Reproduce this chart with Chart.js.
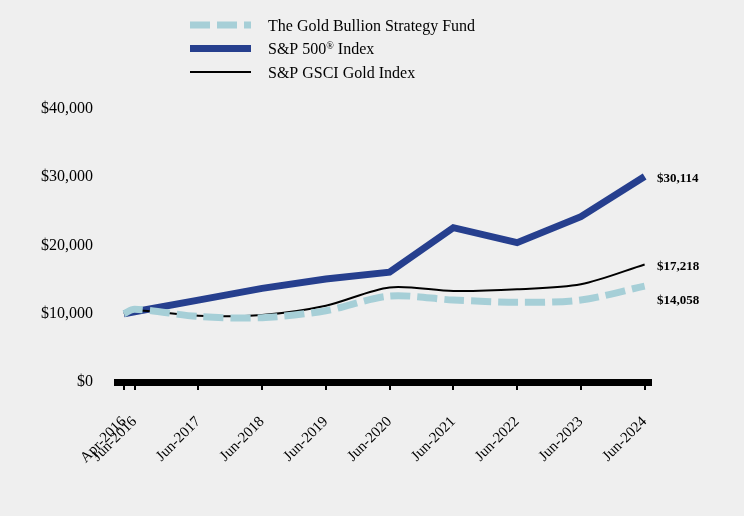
<html>
<head>
<style>
  body { margin: 0; background: #efefef; }
  #wrap { width: 744px; height: 516px; position: relative; }
</style>
</head>
<body>
<div id="wrap"><canvas id="myChart"></canvas></div>
<script src="https://cdn.jsdelivr.net/npm/chart.js@4.4.1/dist/chart.umd.min.js"></script>
<script>
    // months counted from Apr-2016
    const months = [0, 2, 14, 26, 38, 50, 62, 74, 86, 98];
    const tickLabels = ["Apr-2016", "Jun-2016", "Jun-2017", "Jun-2018", "Jun-2019",
        "Jun-2020", "Jun-2021", "Jun-2022", "Jun-2023", "Jun-2024"];

    const fundValues = [10000, 10650, 9600, 9420, 10450, 12600, 12015, 11680, 12015, 14058];
    const spxValues = [10000, 10300, 12000, 13720, 15090, 16100, 22610, 20410, 24220, 30114];
    const goldValues = [10000, 10500, 9710, 9820, 11180, 13850, 13330, 13580, 14310, 17218];

    const fundColor = "#a6cfd7";
    const spxColor = "#263f8e";
    const goldColor = "#000000";

    Chart.defaults.font.family = "'Liberation Serif', 'Times New Roman', serif";
    Chart.defaults.color = "#000";

    const toPoints = (vals) => vals.map((v, i) => ({ x: months[i], y: v }));
    const money = (v) => "$" + Math.round(v).toLocaleString("en-US");

    // legend stacked in one column
    const legendPlugin = {
        id: "columnLegend",
        afterDraw(chart) {
            const ctx = chart.ctx;
            const rows = [
                { y: 25, color: fundColor, width: 7, dash: [20, 7] },
                { y: 48.5, color: spxColor, width: 7, dash: [] },
                { y: 72, color: goldColor, width: 2, dash: [] }
            ];
            ctx.save();
            rows.forEach((r) => {
                ctx.beginPath();
                ctx.setLineDash(r.dash);
                ctx.lineWidth = r.width;
                ctx.strokeStyle = r.color;
                ctx.moveTo(190, r.y);
                ctx.lineTo(251, r.y);
                ctx.stroke();
            });
            ctx.setLineDash([]);
            ctx.fillStyle = "#000";
            ctx.textBaseline = "middle";
            ctx.textAlign = "left";
            ctx.font = "16px 'Liberation Serif'";
            const ty = (r) => r.y + 1.5;
            ctx.fillText("The Gold Bullion Strategy Fund", 268, ty(rows[0]));
            let x = 268;
            ctx.fillText("S&P 500", x, ty(rows[1]));
            x += ctx.measureText("S&P 500").width;
            ctx.font = "10px 'Liberation Serif'";
            ctx.fillText("®", x, ty(rows[1]) - 4);
            x += ctx.measureText("®").width;
            ctx.font = "16px 'Liberation Serif'";
            ctx.fillText(" Index", x, ty(rows[1]));
            ctx.fillText("S&P GSCI Gold Index", 268, ty(rows[2]));
            ctx.restore();
        }
    };

    // ending values next to the last points
    const endLabels = {
        id: "endLabels",
        afterDatasetsDraw(chart) {
            const ctx = chart.ctx;
            const yScale = chart.scales.y;
            const xPos = chart.scales.x.right + 6;
            const items = chart.data.datasets.map((ds) => {
                const last = ds.data[ds.data.length - 1].y;
                return { text: money(last), y: yScale.getPixelForValue(last) + 2 };
            }).sort((a, b) => a.y - b.y);
            for (let i = 1; i < items.length; i++) {
                if (items[i].y - items[i - 1].y < 34) items[i].y = items[i - 1].y + 34;
            }
            ctx.save();
            ctx.font = "bold 13px 'Liberation Serif'";
            ctx.fillStyle = "#000";
            ctx.textBaseline = "middle";
            items.forEach((it) => ctx.fillText(it.text, xPos, it.y));
            ctx.restore();
        }
    };

    new Chart("myChart", {
        type: "line",
        data: {
            datasets: [
                {
                    label: "The Gold Bullion Strategy Fund",
                    data: toPoints(fundValues),
                    borderColor: fundColor,
                    borderWidth: 7,
                    borderDash: [20, 7],
                    tension: 0.3,
                    pointRadius: 0,
                    order: 1
                },
                {
                    label: "S&P 500® Index",
                    data: toPoints(spxValues),
                    borderColor: spxColor,
                    borderWidth: 7,
                    tension: 0,
                    pointRadius: 0,
                    order: 3
                },
                {
                    label: "S&P GSCI Gold Index",
                    data: toPoints(goldValues),
                    borderColor: goldColor,
                    borderWidth: 2,
                    tension: 0.3,
                    pointRadius: 0,
                    order: 2
                }
            ]
        },
        options: {
            responsive: true,
            maintainAspectRatio: false,
            animation: false,
            layout: { padding: { top: 109, right: 93, left: 0, bottom: 0 } },
            plugins: { legend: { display: false }, tooltip: { enabled: false } },
            scales: {
                x: {
                    type: "linear",
                    min: -1.3,
                    max: 99.2,
                    afterBuildTicks: (s) => { s.ticks = months.map((m) => ({ value: m })); },
                    afterFit: (s) => { s.height = 134; },
                    grid: { display: true, drawOnChartArea: false, drawTicks: true, tickLength: 8, color: "#000", lineWidth: 2 },
                    border: { display: true, color: "#000", width: 7 },
                    ticks: {
                        autoSkip: false,
                        minRotation: 45,
                        maxRotation: 45,
                        padding: 23,
                        font: { size: 15 },
                        callback: (v) => tickLabels[months.indexOf(v)]
                    }
                },
                y: {
                    min: 0,
                    max: 40000,
                    afterFit: (s) => { s.width = 117; },
                    grid: { display: false },
                    border: { display: false },
                    ticks: {
                        stepSize: 10000,
                        padding: 16,
                        font: { size: 16 },
                        callback: (v) => money(v)
                    }
                }
            }
        },
        plugins: [legendPlugin, endLabels]
    });
</script>
</body>
</html>
